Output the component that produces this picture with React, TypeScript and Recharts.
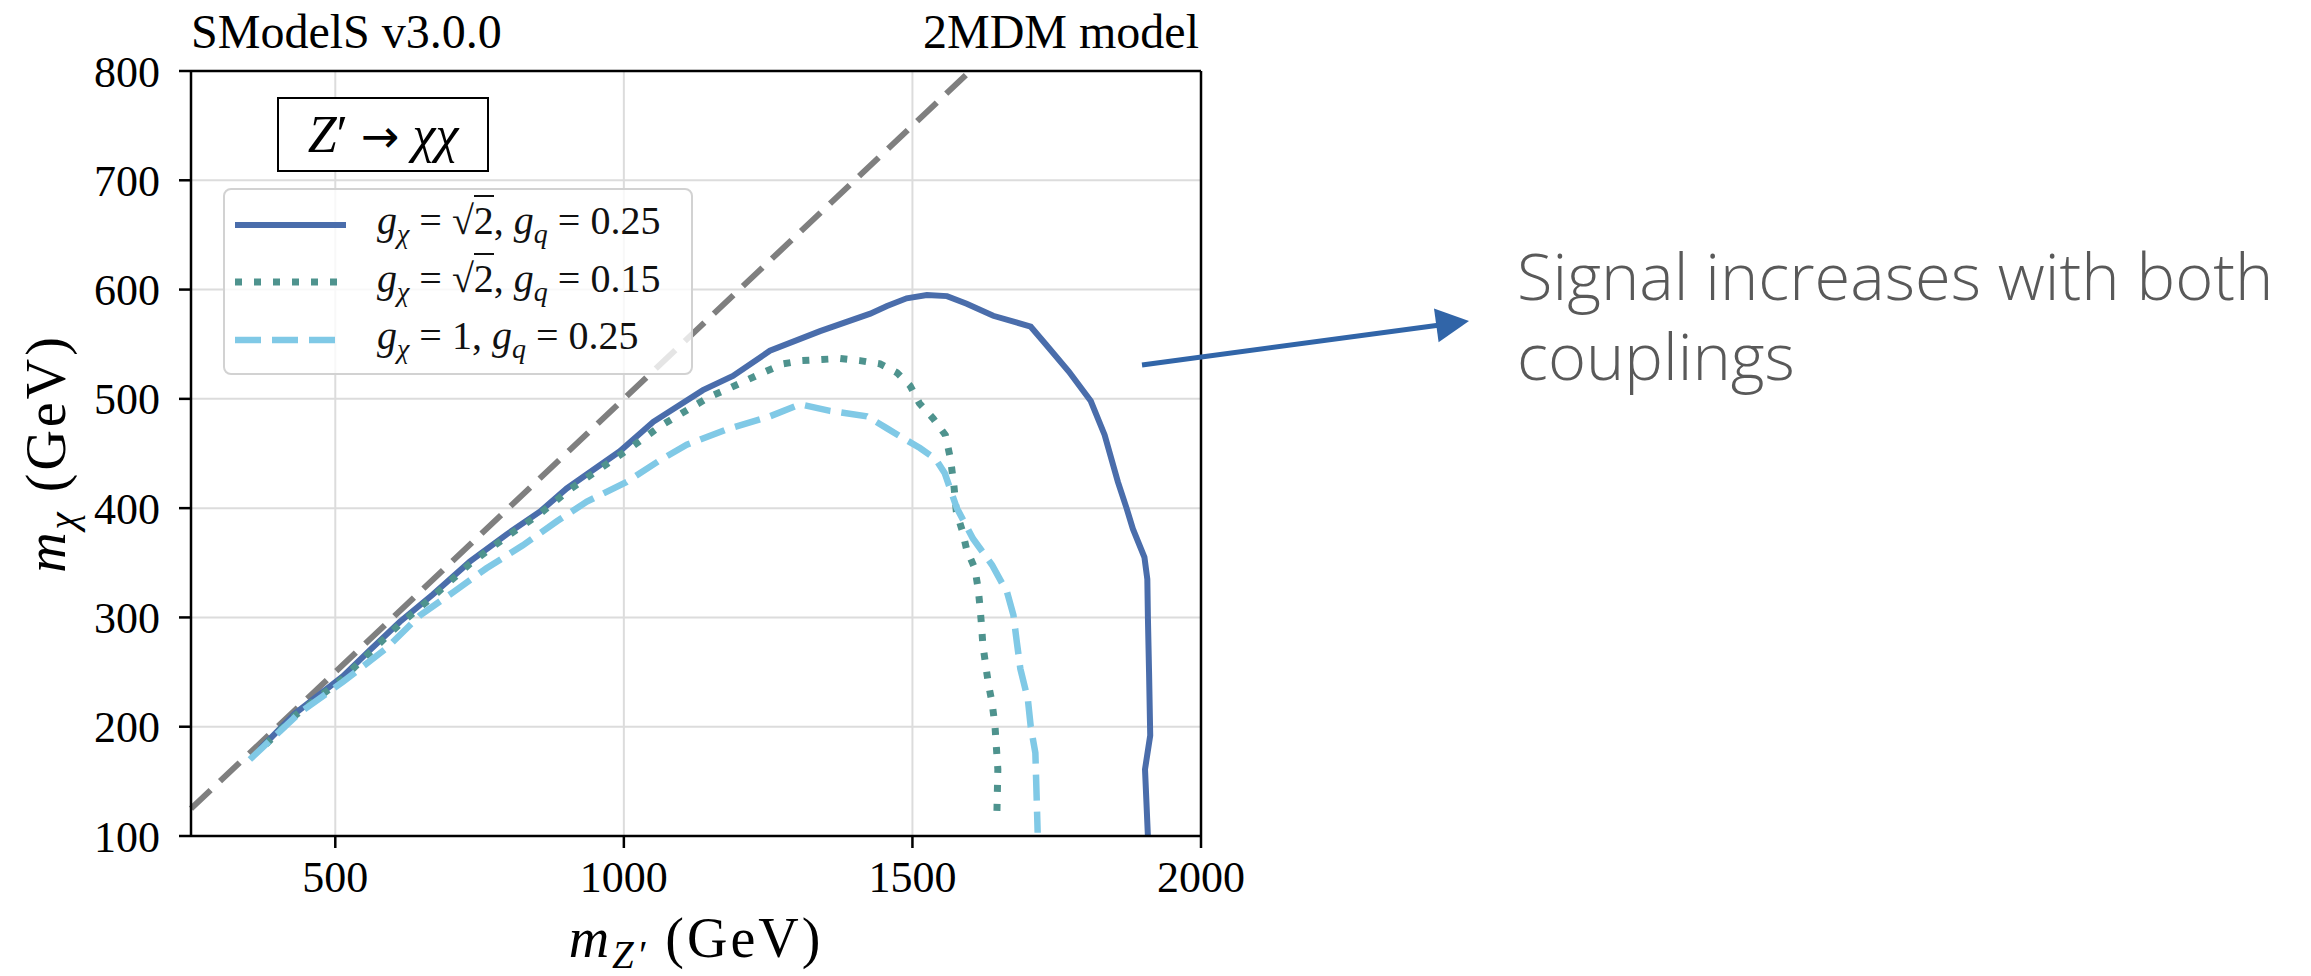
import { LineChart, Line, XAxis, YAxis, CartesianGrid, ReferenceLine, Legend, Label } from "recharts";

const X_TICKS = [500, 1000, 1500, 2000];
const Y_TICKS = [100, 200, 300, 400, 500, 600, 700, 800];

// kinematic limit m_chi = m_Z' / 2
const DIAGONAL: [number, number][] = [[250, 125], [1600, 800]];

// exclusion contour, g_chi = sqrt2, g_q = 0.25
const CURVE_A: [number, number][] = [
  [370, 180], [430, 212], [513, 246], [560, 270], [612, 296], [669, 321], [733, 351],
  [797, 376], [855, 397], [901, 418], [936, 431], [993, 452], [1051, 479], [1137, 508],
  [1189, 521], [1253, 544], [1340, 562], [1427, 578], [1456, 585], [1490, 592], [1525, 595],
  [1560, 594], [1594, 587], [1640, 576], [1680, 570], [1705, 566], [1731, 550], [1771, 525],
  [1809, 498], [1833, 467], [1856, 424], [1871, 400], [1882, 381], [1902, 355], [1907, 335],
  [1908, 300], [1910, 250], [1912, 192], [1903, 161], [1908, 100],
];

// g_chi = sqrt2, g_q = 0.15
const CURVE_B: [number, number][] = [
  [380, 184], [430, 210], [513, 244], [560, 268], [612, 294], [669, 319], [733, 349],
  [797, 374], [855, 395], [901, 415], [936, 428], [1011, 455], [1063, 475], [1120, 493],
  [1149, 502], [1184, 510], [1241, 524], [1276, 532], [1309, 535], [1343, 536], [1375, 537],
  [1409, 535], [1444, 532], [1473, 524], [1496, 512], [1512, 496], [1536, 482], [1557, 467],
  [1566, 445], [1572, 420], [1576, 397], [1586, 380], [1594, 362], [1608, 345], [1614, 326],
  [1617, 310], [1620, 291], [1622, 275], [1627, 256], [1632, 238], [1638, 222], [1643, 201],
  [1648, 161], [1646, 112],
];

// g_chi = 1, g_q = 0.25
const CURVE_C: [number, number][] = [
  [352, 170], [439, 213], [513, 241], [589, 272], [647, 302], [704, 323], [762, 345],
  [825, 366], [884, 388], [936, 406], [1005, 424], [1063, 444], [1109, 458], [1178, 472],
  [1253, 484], [1305, 495], [1357, 489], [1421, 484], [1456, 473], [1484, 464], [1513, 455],
  [1540, 445], [1556, 432], [1577, 400], [1605, 372], [1638, 348], [1664, 323], [1675, 302],
  [1681, 277], [1687, 253], [1700, 225], [1705, 200], [1713, 176], [1717, 103],
];

const toRows = (pts: [number, number][]) => pts.map(([x, y]) => ({ x, y }));

const SERIES = [
  { name: "gχ = √2, gq = 0.25", gChi: "√2", gQ: "0.25", points: CURVE_A, color: "#4a6dab", width: 6, dash: undefined },
  { name: "gχ = √2, gq = 0.15", gChi: "√2", gQ: "0.15", points: CURVE_B, color: "#4e938e", width: 7, dash: "7 12" },
  { name: "gχ = 1, gq = 0.25", gChi: "1", gQ: "0.25", points: CURVE_C, color: "#80c9e6", width: 6.5, dash: "26 11" },
];

const SERIF = "'Liberation Serif', 'DejaVu Serif', serif";

function Coupling({ value }: { value: string }) {
  if (value.startsWith("√")) {
    return (
      <span>
        √<span style={{ borderTop: "2px solid #111", paddingTop: 1 }}>{value.slice(1)}</span>
      </span>
    );
  }
  return <span>{value}</span>;
}

const subStyle = { fontSize: 28, verticalAlign: "baseline", position: "relative" as const, top: 9 };

function LegendBox({ payload }: any) {
  const shown = new Set((payload ?? []).filter((p: any) => p.type !== "none").map((p: any) => p.value));
  const rows = SERIES.filter((s) => shown.has(s.name));
  return (
    <div
      style={{
        width: 470,
        height: 187,
        boxSizing: "border-box",
        background: "rgba(255,255,255,0.8)",
        border: "2px solid #d2d2d2",
        borderRadius: 8,
        padding: "6px 0 0 10px",
        fontFamily: SERIF,
        fontSize: 40,
        color: "#111",
      }}
    >
      {rows.map((s) => (
        <div key={s.name} style={{ display: "flex", alignItems: "center", height: 57.5 }}>
          <svg width={111} height={12} style={{ flex: "none" }}>
            <line x1={0} x2={111} y1={6} y2={6} stroke={s.color} strokeWidth={s.width} strokeDasharray={s.dash} />
          </svg>
          <span style={{ marginLeft: 31, whiteSpace: "pre", position: "relative", top: -4 }}>
            <i>g</i>
            <sub style={subStyle}><i>χ</i></sub>
            {" = "}
            <Coupling value={s.gChi} />
            {", "}
            <i>g</i>
            <sub style={subStyle}><i>q</i></sub>
            {" = "}
            {s.gQ}
          </span>
        </div>
      ))}
    </div>
  );
}

function YTitle({ viewBox }: any) {
  const cx = viewBox.x + 65;
  const cy = viewBox.y + viewBox.height / 2;
  return (
    <text x={cx} y={cy} transform={`rotate(-90 ${cx} ${cy})`} textAnchor="middle" fontFamily={SERIF} fontSize={56} letterSpacing={3} fill="#000">
      <tspan fontStyle="italic">m</tspan>
      <tspan fontStyle="italic" fontSize={39} dy={11}>χ</tspan>
      <tspan dy={-11}> (GeV)</tspan>
    </text>
  );
}

function XTitle({ viewBox }: any) {
  const cx = viewBox.x + viewBox.width / 2;
  const cy = viewBox.y + 121;
  return (
    <text x={cx} y={cy} textAnchor="middle" fontFamily={SERIF} fontSize={56} letterSpacing={3} fill="#000">
      <tspan fontStyle="italic">m</tspan>
      <tspan fontStyle="italic" fontSize={39} dy={11}>Z′</tspan>
      <tspan dy={-11}> (GeV)</tspan>
    </text>
  );
}

const tickStyle = { fill: "#000", fontSize: 44, fontFamily: SERIF };

export default function App() {
  return (
    <div style={{ position: "absolute", left: 0, top: 0, width: 2311, height: 976, background: "#fff", overflow: "hidden" }}>
      <LineChart width={1300} height={976} margin={{ top: 71, right: 99, bottom: 0, left: 0 }}>
        <CartesianGrid stroke="#dcdcdc" strokeWidth={2} />
        <XAxis
          type="number"
          dataKey="x"
          domain={[250, 2000]}
          ticks={X_TICKS}
          height={140}
          tickSize={12}
          tickMargin={13}
          tick={tickStyle}
          axisLine={{ stroke: "#000", strokeWidth: 2.5 }}
          tickLine={{ stroke: "#000", strokeWidth: 2.5 }}
        >
          <Label content={<XTitle />} />
        </XAxis>
        <YAxis
          type="number"
          dataKey="y"
          domain={[100, 800]}
          ticks={Y_TICKS}
          width={191}
          tickSize={12}
          tickMargin={19}
          tick={tickStyle}
          axisLine={{ stroke: "#000", strokeWidth: 2.5 }}
          tickLine={{ stroke: "#000", strokeWidth: 2.5 }}
        >
          <Label content={<YTitle />} />
        </YAxis>
        <ReferenceLine y={800} stroke="#000" strokeWidth={2.5} />
        <ReferenceLine x={2000} stroke="#000" strokeWidth={2.5} />
        <Line
          data={toRows(DIAGONAL)}
          dataKey="y"
          name="diagonal"
          legendType="none"
          type="linear"
          stroke="#7f7f7f"
          strokeWidth={6}
          strokeDasharray="27 13"
          dot={false}
          activeDot={false}
          isAnimationActive={false}
        />
        {SERIES.map((s) => (
          <Line
            key={s.name}
            data={toRows(s.points)}
            dataKey="y"
            name={s.name}
            type="linear"
            stroke={s.color}
            strokeWidth={s.width}
            strokeDasharray={s.dash}
            dot={false}
            activeDot={false}
            isAnimationActive={false}
          />
        ))}
        <Legend
          layout="vertical"
          align="center"
          verticalAlign="middle"
          content={<LegendBox />}
          wrapperStyle={{ left: 223, top: 188, width: 470, height: 187 }}
        />
      </LineChart>

      <div
        style={{
          position: "absolute",
          left: 277,
          top: 97,
          width: 212,
          height: 75,
          boxSizing: "border-box",
          border: "2.5px solid #000",
          display: "flex",
          alignItems: "center",
          justifyContent: "center",
          fontFamily: SERIF,
          fontSize: 52,
          background: "#fff",
          whiteSpace: "pre",
        }}
      >
        <span>
          <i>Z</i>′ <span style={{ fontFamily: "'DejaVu Sans', sans-serif", fontSize: 46 }}>→</span> <i>χχ</i>
        </span>
      </div>

      <svg width={2311} height={976} style={{ position: "absolute", left: 0, top: 0, pointerEvents: "none" }}>
        <text x={191} y={48} fontFamily={SERIF} fontSize={48} fill="#000">SModelS v3.0.0</text>
        <text x={1199} y={48} textAnchor="end" fontFamily={SERIF} fontSize={48} fill="#000">2MDM model</text>
        <line x1={1142} y1={365} x2={1440} y2={325} stroke="#3165a8" strokeWidth={5} />
        <polygon points="1469,321 1434,308.6 1438.6,342.2" fill="#3165a8" />
        <text x={1517} y={300} fontFamily="'Open Sans', Lato, sans-serif" fontWeight={300} fontSize={65} fill="#595959">
          Signal increases with both
        </text>
        <text x={1517} y={380} fontFamily="'Open Sans', Lato, sans-serif" fontWeight={300} fontSize={65} fill="#595959">
          couplings
        </text>
      </svg>
    </div>
  );
}
